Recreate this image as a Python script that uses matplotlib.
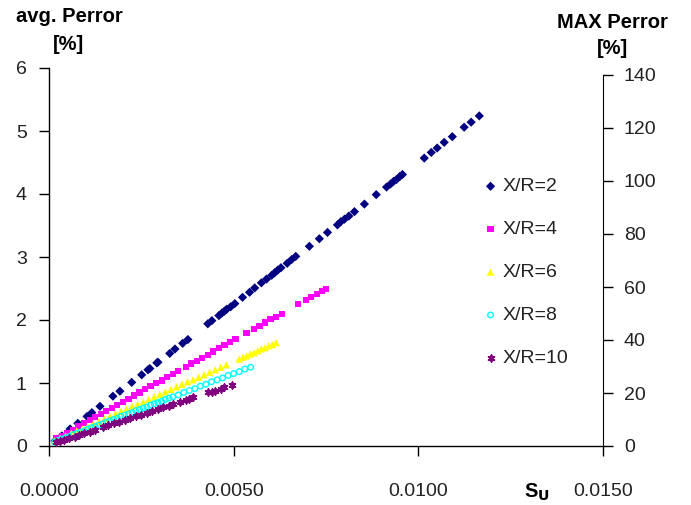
import numpy as np
import matplotlib
matplotlib.use("Agg")
import matplotlib.pyplot as plt

plt.rcParams['font.family'] = ['Liberation Sans', 'DejaVu Sans']

# x values in units of 1e-4 (S_U), y values = avg. Perror [%]
xr2_x = [1.6, 3.5, 5.7, 7.8, 10.3, 11.6, 13.8, 17.3, 19.2, 22.4, 25.1, 26.8, 27.3, 29.2, 29.5,
         32.7, 34.1, 36.2, 37.6, 43.0, 44.1, 46.0, 46.8, 47.5, 48.1, 49.2, 50.3, 52.4, 54.3,
         55.7, 57.5, 58.9, 60.3, 61.1, 61.9, 62.8, 64.5, 65.7, 66.8, 70.5, 73.2, 75.4, 78.1,
         79.0, 80.0, 81.2, 82.7, 85.4, 88.6, 91.4, 92.5, 93.3, 94.1, 95.0, 95.7, 101.6, 103.5,
         105.1, 107.0, 109.2, 112.4, 114.3, 116.5]
xr2_y = [0.08, 0.16, 0.27, 0.36, 0.47, 0.53, 0.63, 0.79, 0.87, 1.01, 1.13, 1.21, 1.23, 1.32, 1.33,
         1.47, 1.54, 1.63, 1.69, 1.94, 1.99, 2.07, 2.11, 2.14, 2.17, 2.21, 2.26, 2.36, 2.44,
         2.51, 2.59, 2.65, 2.71, 2.75, 2.79, 2.83, 2.90, 2.96, 3.01, 3.17, 3.29, 3.39, 3.51,
         3.56, 3.60, 3.65, 3.72, 3.84, 3.99, 4.11, 4.16, 4.20, 4.23, 4.28, 4.31, 4.57, 4.66,
         4.73, 4.82, 4.91, 5.06, 5.14, 5.24]

xr4_x = [2.0, 3.5, 5.0, 6.5, 8.0, 9.5, 11.0, 12.5, 14.0, 15.5, 17.0, 18.5, 20.0, 21.5, 23.0,
         24.5, 26.0, 27.5, 29.0, 30.5, 32.0, 33.5, 35.0, 37.0, 38.5, 40.0, 41.5, 43.0, 44.5,
         46.0, 47.5, 49.0, 50.5, 53.5, 55.5, 57.0, 58.5, 60.0, 61.5, 63.0, 67.5, 69.5, 71.0,
         72.5, 74.0, 75.0]
xr4_y = [0.12, 0.16, 0.21, 0.26, 0.31, 0.36, 0.41, 0.46, 0.51, 0.56, 0.60, 0.65, 0.70, 0.75, 0.80,
         0.85, 0.90, 0.95, 1.00, 1.04, 1.09, 1.14, 1.19, 1.26, 1.31, 1.35, 1.40, 1.45, 1.50,
         1.55, 1.60, 1.65, 1.70, 1.79, 1.86, 1.91, 1.96, 2.01, 2.05, 2.10, 2.25, 2.32, 2.36,
         2.41, 2.46, 2.49]

xr6_x = [1.5, 3.0, 4.5, 6.0, 7.5, 9.0, 10.5, 12.0, 13.5, 15.0, 16.5, 18.0, 19.5, 21.0, 22.5,
         24.0, 25.5, 27.0, 28.5, 30.0, 31.5, 33.0, 34.5, 36.0, 37.5, 39.0, 40.5, 42.0, 43.5,
         45.0, 46.5, 48.0, 51.5, 52.5, 53.5, 54.5, 55.5, 56.5, 57.5, 58.5, 59.5, 60.5, 61.5]
xr6_y = [0.08, 0.12, 0.16, 0.20, 0.24, 0.27, 0.31, 0.35, 0.39, 0.43, 0.47, 0.51, 0.55, 0.59, 0.63,
         0.66, 0.70, 0.74, 0.78, 0.82, 0.86, 0.90, 0.94, 0.98, 1.02, 1.05, 1.09, 1.13, 1.17,
         1.21, 1.25, 1.29, 1.38, 1.41, 1.43, 1.46, 1.48, 1.51, 1.54, 1.56, 1.59, 1.61, 1.64]

xr8_x = [1.5, 2.5, 3.5, 4.5, 5.5, 6.5, 7.5, 8.5, 9.5, 10.5, 11.5, 12.5, 13.5, 14.5, 15.5, 16.5,
         17.5, 18.5, 19.5, 20.5, 21.5, 22.5, 23.5, 24.5, 25.5, 26.5, 27.5, 28.5, 29.5, 30.5,
         31.5, 32.5, 33.5, 35.0, 36.5, 38.0, 39.5, 41.0, 42.5, 44.0, 45.5, 47.0, 48.5, 50.0,
         51.5, 53.0, 54.6]
xr8_y = [0.06, 0.09, 0.11, 0.13, 0.15, 0.18, 0.20, 0.22, 0.24, 0.27, 0.29, 0.31, 0.33, 0.35, 0.38,
         0.40, 0.42, 0.44, 0.47, 0.49, 0.51, 0.53, 0.56, 0.58, 0.60, 0.62, 0.65, 0.67, 0.69,
         0.71, 0.74, 0.76, 0.78, 0.81, 0.85, 0.88, 0.91, 0.95, 0.98, 1.02, 1.05, 1.08, 1.12,
         1.15, 1.18, 1.22, 1.25]

xr10_x = [2.0, 3.0, 4.0, 5.5, 7.0, 8.0, 9.5, 11.0, 12.5, 14.5, 16.0, 17.5, 19.0, 20.5, 22.0,
          23.5, 25.0, 26.5, 28.0, 29.5, 31.0, 32.5, 33.5, 35.5, 37.0, 38.0, 39.0, 43.0, 44.0,
          45.0, 46.5, 47.5, 49.5]
xr10_y = [0.06, 0.08, 0.10, 0.13, 0.15, 0.17, 0.20, 0.23, 0.26, 0.30, 0.33, 0.36, 0.38, 0.41, 0.44,
          0.47, 0.50, 0.53, 0.56, 0.59, 0.62, 0.64, 0.66, 0.70, 0.73, 0.75, 0.77, 0.85, 0.86,
          0.88, 0.91, 0.93, 0.97]

labels = ["X/R=2", "X/R=4", "X/R=6", "X/R=8", "X/R=10"]
xticks = [0.0, 0.005, 0.010, 0.015]
xtick_labels = ["0.0000", "0.0050", "0.0100", "0.0150"]
left_ticks = [0, 1, 2, 3, 4, 5, 6]
right_ticks = [0, 20, 40, 60, 80, 100, 120, 140]

X_UNIT = 1e-4

W, H = 691, 505
fig = plt.figure(figsize=(W / 100, H / 100), dpi=100)
x0, x1 = 49, 603
y0, y1 = 446, 68
ax = fig.add_axes([x0 / W, 1 - y0 / H, (x1 - x0) / W, (y0 - y1) / H])

styles = [
    dict(marker='D', color='#000080', s=22, edgecolors='none'),
    dict(marker='s', color='#FF00FF', s=20, edgecolors='none'),
    dict(marker='^', color='#FFFF00', s=28, edgecolors='none'),
    dict(marker='o', facecolors='none', edgecolors='#00FFFF', s=16, linewidths=1.0),
    dict(marker=(6, 2, 0), color='#800080', s=22, linewidths=1.3),
]
series = [(xr2_x, xr2_y), (xr4_x, xr4_y), (xr6_x, xr6_y), (xr8_x, xr8_y), (xr10_x, xr10_y)]
handles = []
for (xs, ys), st, lab in zip(series, styles, labels):
    h = ax.scatter(np.array(xs) * X_UNIT, ys, label=lab, zorder=3, **st)
    handles.append(h)

ax.set_xlim(0, 0.015)
ax.set_ylim(0, 6)
ax.set_xticks(xticks)
ax.set_xticklabels(xtick_labels)
ax.set_yticks(left_ticks)
ax.spines['top'].set_visible(False)
ax.spines['right'].set_visible(False)
for sp in ['left', 'bottom']:
    ax.spines[sp].set_color('black')
    ax.spines[sp].set_linewidth(1.0)
ax.tick_params(axis='both', direction='out', length=7, width=1.0, labelsize=14,
               colors='black', labelcolor='#222222')
ax.tick_params(axis='y', pad=9)
ax.tick_params(axis='x', pad=20)

# secondary axis (slightly shorter scale as in the original)
ax2 = ax.twinx()
ax2.set_ylim(0, 140 * 378 / 371)
ax2.set_yticks(right_ticks)
ax2.spines['top'].set_visible(False)
ax2.spines['left'].set_visible(False)
ax2.spines['bottom'].set_visible(False)
ax2.spines['right'].set_bounds(0, 140)
ax2.spines['right'].set_color('black')
ax2.tick_params(axis='y', direction='out', length=7, width=1.0, labelsize=14,
                colors='black', labelcolor='#222222', pad=8)

fig.text(69 / W, 1 - 17 / H, "avg. Perror", ha='center', va='center',
         fontsize=14.5, fontweight='bold')
fig.text(69 / W, 1 - 44 / H, "[%]", ha='center', va='center',
         fontsize=14.5, fontweight='bold')
fig.text(612 / W, 1 - 22 / H, "MAX Perror", ha='center', va='center',
         fontsize=14.5, fontweight='bold')
fig.text(612 / W, 1 - 48 / H, "[%]", ha='center', va='center',
         fontsize=14.5, fontweight='bold')
fig.text(537 / W, 1 - 492 / H, r"S$_\mathbf{U}$", ha='center', va='center',
         fontsize=14.5, fontweight='bold')

leg = ax.legend(handles=handles, labels=labels, loc='upper left',
                bbox_to_anchor=((473 - x0) / (x1 - x0), (y0 - 170) / (y0 - y1)),
                frameon=False, fontsize=14, labelspacing=1.3, handletextpad=0.1,
                handlelength=1.0, markerscale=1.0, borderaxespad=0)
for t in leg.get_texts():
    t.set_color('#222222')

fig.savefig("out.png", dpi=100)
